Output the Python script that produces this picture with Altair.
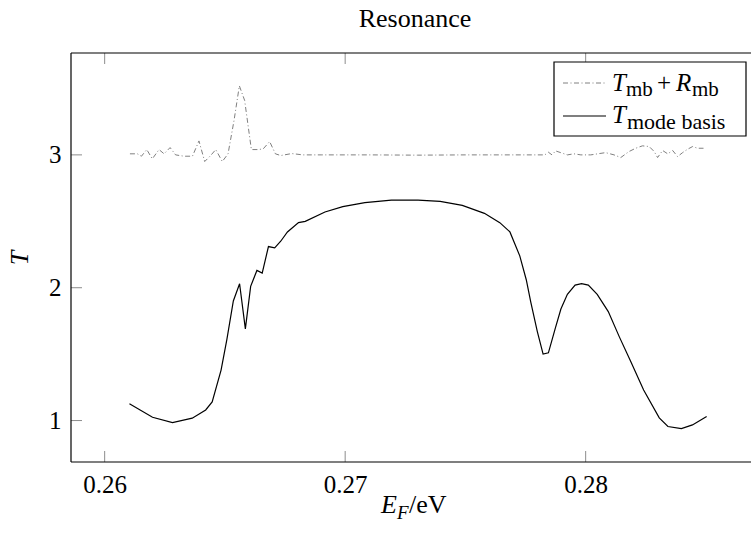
import altair as alt
import pandas as pd

# ---------------- data ----------------
mode_x = [0.26103, 0.26199, 0.26282, 0.26364, 0.26420, 0.26447, 0.26484, 0.26508,
          0.26535, 0.26561, 0.26585, 0.26607, 0.26633, 0.26655, 0.26681, 0.26707,
          0.26732, 0.26760, 0.26806, 0.26834, 0.26916, 0.26990, 0.27082, 0.27192,
          0.27303, 0.27395, 0.27487, 0.27579, 0.27643, 0.27685, 0.27726, 0.27753,
          0.27772, 0.27799, 0.27823, 0.27845, 0.27873, 0.27897, 0.27924, 0.27956,
          0.27983, 0.28011, 0.28048, 0.28094, 0.28140, 0.28186, 0.28241, 0.28306,
          0.28342, 0.28398, 0.28444, 0.28503]
mode_T = [1.126, 1.025, 0.985, 1.018, 1.08, 1.14, 1.38, 1.61,
          1.90, 2.03, 1.69, 2.01, 2.13, 2.11, 2.31, 2.30,
          2.35, 2.42, 2.49, 2.50, 2.57, 2.61, 2.64, 2.66,
          2.66, 2.65, 2.62, 2.56, 2.49, 2.42, 2.24, 2.06,
          1.89, 1.67, 1.50, 1.51, 1.69, 1.84, 1.95, 2.02,
          2.03, 2.02, 1.95, 1.82, 1.63, 1.45, 1.23, 1.02,
          0.955, 0.94, 0.967, 1.03]

mb_x = [0.26105, 0.26136, 0.26153, 0.26175, 0.26198, 0.26226, 0.26247, 0.26272,
        0.26295, 0.26330, 0.26365, 0.26392, 0.26416, 0.26438, 0.26462, 0.26489,
        0.26513, 0.26538, 0.26560, 0.26582, 0.26610, 0.26637, 0.26659, 0.26686,
        0.26710, 0.26732, 0.26778, 0.26824, 0.2690, 0.2710, 0.2730, 0.2750,
        0.2770, 0.2783, 0.27845, 0.2786, 0.27875, 0.27896, 0.27924, 0.27951,
        0.2798, 0.28021, 0.2805, 0.28083, 0.28118, 0.28146, 0.2818, 0.28208,
        0.28236, 0.28264, 0.28285, 0.28299, 0.2832, 0.28341, 0.28362, 0.28382,
        0.28403, 0.28424, 0.28445, 0.28465, 0.2849]
mb_T = [3.008, 3.008, 2.99, 3.04, 2.97, 3.04, 3.008, 3.055,
        3.0, 2.99, 2.99, 3.105, 2.95, 2.99, 3.04, 2.95,
        3.008, 3.26, 3.52, 3.41, 3.04, 3.04, 3.045, 3.10,
        3.008, 2.995, 3.01, 3.0, 3.0, 3.0, 2.998, 3.0,
        3.0, 3.0, 3.02, 3.0, 3.03, 3.017, 3.0, 3.008,
        3.0, 3.0, 3.008, 3.017, 3.0, 2.98, 3.025, 3.05,
        3.068, 3.063, 3.025, 2.98, 3.033, 3.008, 3.033, 2.987,
        3.017, 3.043, 3.063, 3.05, 3.05]

x_ticks = [0.26, 0.27, 0.28]
y_ticks = [1, 2, 3]

# ---------------- layout ----------------
W, H = 680, 409
XDOM = [0.2586, 0.2586 + 680 / 24050]
YDOM = [0.688, 3.767]
FONT = "Liberation Serif"
FS = 25
SUB = 21
TICKC = "#8c8c8c"

xs = alt.Scale(domain=XDOM, nice=False, zero=False)
ys = alt.Scale(domain=YDOM, nice=False, zero=False)

mode_df = pd.DataFrame({"x": mode_x, "T": mode_T})
mb_df = pd.DataFrame({"x": mb_x, "T": mb_T})
xt_df = pd.DataFrame({"x": x_ticks})
yt_df = pd.DataFrame({"T": y_ticks})

xaxis = alt.Axis(values=x_ticks, format=".2f", labelFont=FONT, labelFontSize=FS,
                 labelColor="black", ticks=False, tickSize=0, domain=False,
                 grid=False, labelPadding=10, title=None)
yaxis = alt.Axis(values=y_ticks, format="d", labelFont=FONT, labelFontSize=FS,
                 labelColor="black", ticks=False, tickSize=0, domain=False,
                 grid=False, labelPadding=10, title=None)

mb_line = alt.Chart(mb_df).mark_line(
    color="#808080", strokeWidth=1.0, strokeDash=[5, 2.5, 1, 2.5], clip=True
).encode(x=alt.X("x:Q", scale=xs, axis=xaxis), y=alt.Y("T:Q", scale=ys, axis=yaxis))

mode_line = alt.Chart(mode_df).mark_line(
    color="black", strokeWidth=1.2, clip=True
).encode(x=alt.X("x:Q", scale=xs), y=alt.Y("T:Q", scale=ys))

# inward ticks
tick_bottom = alt.Chart(xt_df).mark_rule(color=TICKC, strokeWidth=1).encode(
    x=alt.X("x:Q", scale=xs), y=alt.value(H), y2=alt.value(H - 11))
tick_top = alt.Chart(xt_df).mark_rule(color=TICKC, strokeWidth=1).encode(
    x=alt.X("x:Q", scale=xs), y=alt.value(0), y2=alt.value(11))
tick_left = alt.Chart(yt_df).mark_rule(color=TICKC, strokeWidth=1).encode(
    y=alt.Y("T:Q", scale=ys), x=alt.value(0), x2=alt.value(11))

# frame (left, bottom, top)
frame_left = alt.Chart().mark_rule(color="black", strokeWidth=1.2).encode(
    x=alt.value(0), y=alt.value(0), y2=alt.value(H))
frame_bottom = alt.Chart().mark_rule(color="black", strokeWidth=1.2).encode(
    x=alt.value(0), x2=alt.value(W), y=alt.value(H))
frame_top = alt.Chart().mark_rule(color="black", strokeWidth=1.2).encode(
    x=alt.value(0), x2=alt.value(W), y=alt.value(0))


def txt(s, x, y, size=FS, italic=False, align="left", angle=0, baseline="alphabetic"):
    kw = dict(text=s, font=FONT, fontSize=size, align=align, baseline=baseline,
              color="black")
    if italic:
        kw["fontStyle"] = "italic"
    if angle:
        kw["angle"] = angle
    return alt.Chart().mark_text(**kw).encode(x=alt.value(x), y=alt.value(y))


L, T0 = 71, 53  # plot origin in page coords
texts = [
    txt("Resonance", 415 - L, 27 - T0, size=26, align="center"),
    # x axis title E_F/eV
    txt("E", 381 - L, 513 - T0, size=26, italic=True),
    txt("F", 397 - L, 519 - T0, size=19, italic=True),
    txt("/eV", 409 - L, 513 - T0, size=26),
    # y axis title
    txt("T", 20 - L, 258 - T0, size=26, italic=True, align="center", angle=270,
        baseline="middle"),
]

# legend box
legend_box = alt.Chart().mark_rect(fill="white", stroke="black", strokeWidth=1.2).encode(
    x=alt.value(554 - L), x2=alt.value(746 - L), y=alt.value(62 - T0), y2=alt.value(136 - T0))
leg_mb = alt.Chart().mark_rule(color="#808080", strokeWidth=1.0,
                               strokeDash=[5, 2.5, 1, 2.5]).encode(
    x=alt.value(563 - L), x2=alt.value(606 - L), y=alt.value(83 - T0))
leg_mode = alt.Chart().mark_rule(color="black", strokeWidth=1.2).encode(
    x=alt.value(563 - L), x2=alt.value(606 - L), y=alt.value(116 - T0))
leg_texts = [
    txt("T", 612 - L, 91 - T0, size=25, italic=True),
    txt("mb", 626 - L, 96 - T0, size=SUB),
    txt("+", 657 - L, 91 - T0, size=25),
    txt("R", 676 - L, 91 - T0, size=25, italic=True),
    txt("mb", 692 - L, 96 - T0, size=SUB),
    txt("T", 612 - L, 123 - T0, size=25, italic=True),
    txt("mode basis", 627 - L, 129 - T0, size=22),
]

chart = alt.layer(
    mb_line, mode_line, tick_bottom, tick_top, tick_left,
    frame_left, frame_bottom, frame_top,
    legend_box, leg_mb, leg_mode, *leg_texts, *texts
).properties(
    width=W, height=H,
    autosize=alt.AutoSizeParams(type="none"),
    padding={"left": L, "top": T0, "right": 0, "bottom": 533 - T0 - H},
).configure_view(stroke=None)

chart.save("out.html", embed_options={"renderer": "svg", "actions": False})
